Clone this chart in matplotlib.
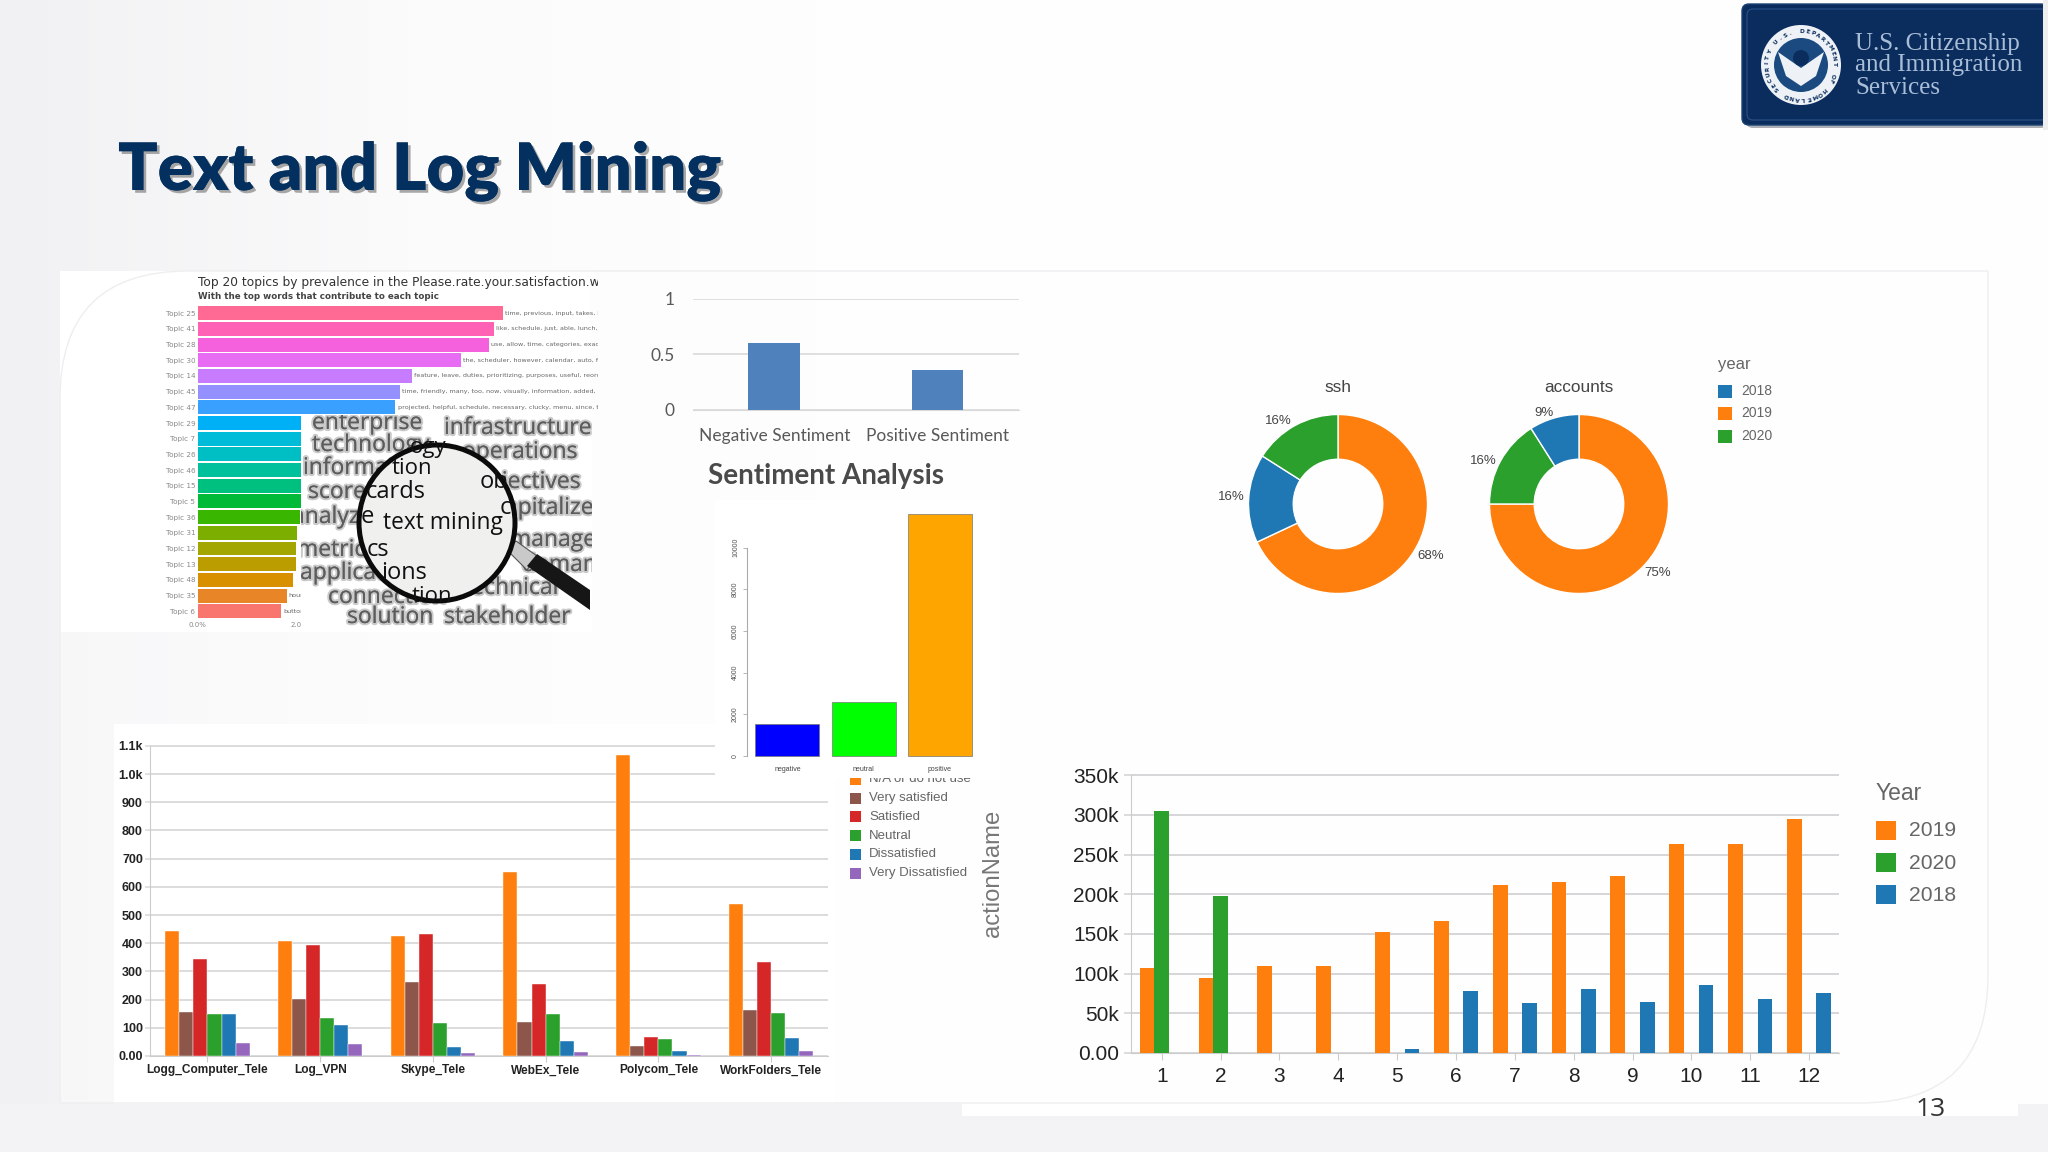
import math
import numpy as np
import matplotlib
matplotlib.use("Agg")
import matplotlib.pyplot as plt
import matplotlib.patheffects as pe
from matplotlib.colors import LinearSegmentedColormap
from matplotlib.patches import Rectangle, Circle, FancyBboxPatch, PathPatch, Polygon
from matplotlib.path import Path

W, H = 2048, 1152

# topic chart
topic_names = ["Topic 25", "Topic 41", "Topic 28", "Topic 30", "Topic 14", "Topic 45", "Topic 47", "Topic 29", "Topic 7", "Topic 26",
               "Topic 46", "Topic 15", "Topic 5", "Topic 36", "Topic 31", "Topic 12", "Topic 13", "Topic 48", "Topic 35", "Topic 6"]
topic_values = [6.0, 5.83, 5.72, 5.18, 4.21, 3.98, 3.89, 3.4, 3.0, 2.7, 2.5, 2.3, 2.1, 2.01, 1.96, 1.93, 1.93, 1.87, 1.75, 1.65]
topic_colors = ["#ff6a94", "#ff61b5", "#f561dd", "#e76bf3", "#c77cff", "#9590ff", "#39a0ff", "#00b0f6", "#00bcd8", "#00bfc4",
                "#00c19c", "#00c080", "#00ba38", "#39b600", "#7cae00", "#a3a500", "#bb9d00", "#d89000", "#e88526", "#f8766d"]
topic_words = ["time, previous, input, takes, long, system", "like, schedule, just, able, lunch, break", "use, allow, time, categories, exact, hours",
               "the, scheduler, however, calendar, auto, fill", "feature, leave, duties, prioritizing, purposes, useful, reorder",
               "time, friendly, many, too, now, visually, information, added, more", "projected, helpful, schedule, necessary, clucky, menu, since, tool",
               "", "", "", "", "", "", "", "", "", "", "", "hours", "button"]

# sentiment charts
sent_names = ["Negative Sentiment", "Positive Sentiment"]
sent_values = [0.60, 0.36]
count_names = ["negative", "neutral", "positive"]
count_values = [1520, 2592, 11616]
count_colors = ["#0000ff", "#00ff00", "#ffa500"]

# donuts
donut_years = ["2018", "2019", "2020"]
ssh_labels = ["2019", "2018", "2020"]
ssh_values = [68, 16, 16]
accounts_labels = ["2019", "2020", "2018"]
accounts_values = [75, 16, 9]
year_colors = {"2018": "#1f77b4", "2019": "#ff7f0e", "2020": "#2ca02c"}

# satisfaction chart
app_names = ["Logg_Computer_Tele", "Log_VPN", "Skype_Tele", "WebEx_Tele", "Polycom_Tele", "WorkFolders_Tele"]
rating_names = ["N/A or do not use", "Very satisfied", "Satisfied", "Neutral", "Dissatisfied", "Very Dissatisfied"]
rating_colors = ["#ff7f0e", "#8c564b", "#d62728", "#2ca02c", "#1f77b4", "#9467bd"]
na_use = [445, 409, 427, 654, 1068, 538]
very_satisfied = [156, 203, 261, 122, 34, 164]
satisfied = [345, 394, 434, 255, 69, 332]
neutral = [150, 136, 116, 150, 60, 151]
dissatisfied = [148, 109, 32, 54, 17, 63]
very_dissatisfied = [45, 41, 11, 15, 4, 19]
rating_ticks = [0, 100, 200, 300, 400, 500, 600, 700, 800, 900, 1000, 1100]
rating_ticklabels = ["0.00", "100", "200", "300", "400", "500", "600", "700", "800", "900", "1.0k", "1.1k"]

# monthly chart
months = [1, 2, 3, 4, 5, 6, 7, 8, 9, 10, 11, 12]
y2019 = [107, 94, 110, 109, 153, 166, 212, 215, 223, 263, 263, 295]
y2020 = [305, 198, 0, 0, 0, 0, 0, 0, 0, 0, 0, 0]
y2018 = [0, 0, 0, 0, 5.5, 78, 63, 80, 64, 86, 68, 76]
month_ticks = [0, 50, 100, 150, 200, 250, 300, 350]
month_ticklabels = ["0.00", "50k", "100k", "150k", "200k", "250k", "300k", "350k"]


def box(x0, y0, x1, y1, **kw):
    # axes from pixel box, y measured from the top
    return fig.add_axes([x0 / W, 1 - y1 / H, (x1 - x0) / W, (y1 - y0) / H], **kw)


def overlay(z):
    a = box(0, 0, W, H)
    a.set_xlim(0, W)
    a.set_ylim(H, 0)
    a.axis("off")
    a.patch.set_alpha(0)
    a.set_zorder(z)
    return a


fig = plt.figure(figsize=(W / 100, H / 100), dpi=100, facecolor="#f3f3f5")

# slide background
bg = overlay(0)
grad = np.linspace(0, 1, 256).reshape(1, -1)
bg.imshow(grad, extent=[0, W, 1104, 0], cmap=LinearSegmentedColormap.from_list("g", ["#f1f1f3", "#fbfbfc", "#fefefe", "#fefefe", "#fefefe", "#fefefe"]),
          aspect="auto", zorder=0)
bg.set_xlim(0, W)
bg.set_ylim(H, 0)
x0, y0, x1, y1, r = 60, 271, 1988, 1103, 128
verts = [(x0 + r, y0), (x1, y0), (x1, y1 - r), (x1, y1), (x1 - r, y1), (x0, y1), (x0, y0 + r), (x0, y0), (x0 + r, y0), (x0 + r, y0)]
codes = [Path.MOVETO, Path.LINETO, Path.LINETO, Path.CURVE3, Path.CURVE3, Path.LINETO, Path.LINETO, Path.CURVE3, Path.CURVE3, Path.CLOSEPOLY]
bg.add_patch(PathPatch(Path(verts, codes), fc="white", alpha=0.45, ec="none", zorder=1))
bg.add_patch(Rectangle((60, 271), 530, 361, fc="white", ec="none", zorder=1.1))
bg.add_patch(Rectangle((114, 724), 720, 380, fc="white", ec="none", zorder=1.1))
bg.add_patch(Rectangle((962, 1100), 1056, 16, fc="white", ec="none", zorder=1.1))
bg.add_patch(PathPatch(Path(verts, codes), fc="none", ec="#eeeef0", lw=1, zorder=1.2))

bg.text(118, 190, "Text and Log Mining", fontsize=47, fontweight="heavy", family="Lato", color="#04305f", va="baseline", ha="left",
        path_effects=[pe.withSimplePatchShadow(offset=(2, -2), shadow_rgbFace="#555555", alpha=0.5), pe.Normal()], zorder=3)
bg.text(1931, 1110, "13", fontsize=19, family="Open Sans", color="#333333", ha="center", va="center", zorder=3)
bg.text(708, 476, "Sentiment Analysis", fontsize=20, fontweight="bold", family="Lato", color="#4a4a4a", va="center", ha="left", zorder=3)

# logo
bg.add_patch(FancyBboxPatch((1746, 8), 302, 120, boxstyle="round,pad=0,rounding_size=7", fc="#8a8f96", ec="none", zorder=2, alpha=0.7))
bg.add_patch(FancyBboxPatch((1742, 4), 306, 121, boxstyle="round,pad=0,rounding_size=7", fc="#0b2d5e", ec="#1c4274", lw=1, zorder=2.1))
bg.add_patch(FancyBboxPatch((1747, 9), 300, 111, boxstyle="round,pad=0,rounding_size=6", fc="none", ec="#2a5288", lw=0.8, zorder=2.15))
bg.add_patch(Rectangle((2043, 0), 5, 130, fc="#eeeeee", ec="none", zorder=2.2))
bg.add_patch(Circle((1801, 65), 40, fc="#eef2f7", ec="none", zorder=3))
bg.add_patch(Circle((1801, 65), 27, fc="#1a4a80", ec="none", zorder=3.1))
bg.add_patch(Polygon([(1778, 52), (1801, 68), (1824, 52), (1816, 76), (1801, 86), (1786, 76)], fc="#eef2f7", ec="none", zorder=3.2))
bg.add_patch(Circle((1801, 58), 8, fc="#0b2d5e", ec="none", zorder=3.3))
seal = "U.S. DEPARTMENT OF HOMELAND SECURITY "
for i, ch in enumerate(seal):
    a = 2 * math.pi * i / len(seal) - 2.4
    bg.text(1801 + 33.5 * math.cos(a), 65 + 33.5 * math.sin(a), ch, fontsize=4.2, fontweight="bold", color="#0b2d5e", ha="center", va="center",
            rotation=-math.degrees(a) - 90, rotation_mode="anchor", zorder=3.4)
for line, yy in zip(["U.S. Citizenship", "and Immigration", "Services"], [44, 65, 88]):
    bg.text(1855, yy, line, fontsize=18, family="Liberation Serif", color="#a9bdd6", va="center", ha="left", zorder=3)

# topic chart, right part is covered by the word cloud
ax = box(197.5, 275, 597.5, 620)
ax.set_zorder(2)
ax.patch.set_alpha(0)
ypos = np.arange(len(topic_names))
ax.barh(ypos, topic_values, height=0.89, color=topic_colors)
ax.set_xlim(0, 7.86)
ax.set_ylim(19.56, -2.44)
ax.set_yticks(ypos)
ax.set_yticklabels(topic_names, fontsize=5.2, color="#888888")
ax.set_xticks([0, 2])
ax.set_xticklabels(["0.0%", "2.0%"], fontsize=5, color="#888888")
ax.tick_params(length=0, pad=1.5)
for s in ax.spines.values():
    s.set_visible(False)
for yi, v, w in zip(ypos, topic_values, topic_words):
    if w:
        ax.text(v + 0.04, yi, w, fontsize=4.6, color="#666666", va="center", clip_on=True)
ax.text(0, -1.93, "Top 20 topics by prevalence in the Please.rate.your.satisfaction.with.the.tool", fontsize=8.8, color="#333333", va="center", clip_on=True)
ax.text(0, -1.07, "With the top words that contribute to each topic", fontsize=6.3, fontweight="bold", color="#444444", va="center", clip_on=True)

# word cloud picture on top of the chart
fg = overlay(3)
fg.add_patch(Rectangle((301, 415), 291, 217, fc="white", ec="none", zorder=1))
frame = Rectangle((301, 415), 291, 212, transform=fg.transData)
cloud = [("enterprise", 312, 423), ("infrastructure", 444, 428), ("technology", 312, 445), ("operations", 462, 452), ("information", 303, 468),
         ("objectives", 474, 482), ("scorecards", 308, 492), ("capitalize", 494, 508), ("analyze", 292, 517), ("manage", 510, 540),
         ("metrics", 297, 550), ("demand", 522, 565), ("application", 300, 573), ("technical", 463, 588), ("connection", 328, 597),
         ("solution", 347, 617), ("stakeholder", 444, 617)]
for word, wx, wy in cloud:
    t = fg.text(wx, wy, word, fontsize=16.5, family="Open Sans", color="#5c5c5c", va="center", ha="left", alpha=0.9, zorder=2, clip_on=True,
                path_effects=[pe.withStroke(linewidth=3, foreground="#a8a8a8", alpha=0.6), pe.Normal()])
    t.set_clip_path(frame)
# magnifier handle
fg.add_patch(Polygon([(506, 549), (516, 541), (537, 556), (527, 570)], fc="#c9c9c9", ec="#555555", lw=0.8, zorder=3))
fg.add_patch(Polygon([(527, 566), (537, 554), (590, 590), (590, 610)], fc="#161616", ec="none", zorder=3))
lens = Circle((437, 523), 78, fc="#f0f1ef", ec="#0b0b0b", lw=3.6, zorder=4)
fg.add_patch(lens)
lens_clip = Circle((437, 523), 77, transform=fg.transData)
lens_words = [("tion", 392, 468, 16), ("ogy", 410, 447, 16), ("cards", 366, 492, 17), ("text mining", 383, 523, 16.4), ("ob", 480, 482, 17),
              ("e", 361, 517, 17), ("cs", 367, 550, 17), ("ions", 381, 573, 17), ("tion", 412, 597, 16), ("c", 500, 508, 17)]
for word, wx, wy, fs in lens_words:
    t = fg.text(wx, wy, word, fontsize=fs, family="Open Sans", color="#111111", va="center", ha="left", zorder=5, clip_on=True)
    t.set_clip_path(lens_clip)

# satisfaction chart
ax = box(150, 740, 828, 1056)
ax.set_zorder(1)
ax.patch.set_alpha(0)
rating_series = [na_use, very_satisfied, satisfied, neutral, dissatisfied, very_dissatisfied]
gpos = np.arange(len(app_names))
for i, (vals, c) in enumerate(zip(rating_series, rating_colors)):
    ax.bar(gpos + (i - 2.5) * 0.125, vals, width=0.125, color=c, zorder=3, edgecolor="white", linewidth=0.3)
ax.set_xlim(-0.51, 5.505)
ax.set_ylim(0, 1121)
ax.set_yticks(rating_ticks)
ax.set_yticklabels(rating_ticklabels, fontsize=9, fontweight="bold", color="#222222", family="Liberation Sans")
ax.set_xticks(gpos)
ax.set_xticklabels(app_names, fontsize=8.6, fontweight="bold", color="#222222", family="Liberation Sans")
ax.grid(axis="y", color="#dcdcdc", lw=1.4, zorder=0)
ax.tick_params(axis="y", length=3.6, color="#dcdcdc", width=1.2, pad=1.5)
ax.tick_params(axis="x", length=4, color="#cccccc", pad=2)
for s in ["top", "right"]:
    ax.spines[s].set_visible(False)
ax.spines["left"].set_color("#cccccc")
ax.spines["left"].set_bounds(0, 1100)
ax.spines["bottom"].set_color("#cccccc")

# legend of the satisfaction chart, first row sits partly under the next picture
mid = overlay(1.5)
for name, c, yy in zip(rating_names, rating_colors, [779, 798, 816.7, 835.7, 854.3, 873.3]):
    mid.add_patch(Rectangle((850, yy - 5.5), 11, 11, fc=c, ec="none"))
    mid.text(869, yy, name, fontsize=9.5, family="Liberation Sans", color="#666666", va="center", ha="left")
mid.text(993, 873, "actionName", fontsize=17.2, family="Liberation Sans", color="#777777", rotation=90, va="center", ha="center")

# sentiment counts, white picture over the chart behind it
ax = box(715, 500, 1000, 778)
ax.set_zorder(2)
ax.set_facecolor("white")
ax.bar(range(3), count_values, width=0.838, color=count_colors, edgecolor="#777777", linewidth=0.5)
ax.set_xlim(-0.948, 2.787)
ax.set_ylim(-1056, 12290)
ax.spines["left"].set_position(("data", -0.524))
ax.spines["left"].set_bounds(0, 10000)
ax.spines["left"].set_color("#aaaaaa")
for s in ["top", "right", "bottom"]:
    ax.spines[s].set_visible(False)
ax.set_xticks([])
ax.set_yticks([0, 2000, 4000, 6000, 8000, 10000])
ax.set_yticklabels(["0", "2000", "4000", "6000", "8000", "10000"], fontsize=5, rotation=90, va="center", color="#555555", family="Liberation Sans")
ax.tick_params(axis="y", length=3, width=0.6, color="#aaaaaa", pad=3)
for i, name in enumerate(count_names):
    ax.text(i, -624, name, fontsize=5, color="#444444", ha="center", va="center", family="Liberation Sans")

# sentiment score
ax = box(692.7, 298.7, 1019, 410)
ax.bar([0, 1], sent_values, width=0.317, color="#4f81bd", zorder=3)
ax.set_xlim(-0.5, 1.5)
ax.set_ylim(0, 1)
ax.patch.set_alpha(0)
ax.set_yticks([0, 0.5, 1])
ax.set_yticklabels(["0", "0.5", "1"], fontsize=12.5, color="#595959", family="Lato")
ax.set_xticks([0, 1])
ax.set_xticklabels(sent_names, fontsize=12.5, color="#595959", family="Lato")
ax.grid(axis="y", color="#d9d9d9", lw=1.2, zorder=0)
ax.tick_params(length=0)
ax.tick_params(axis="x", pad=13)
ax.tick_params(axis="y", pad=13)
for s in ax.spines.values():
    s.set_visible(False)
ax.spines["bottom"].set_visible(True)
ax.spines["bottom"].set_color("#d9d9d9")


def donut(cx, name, labels, values, nudges):
    R = 89.5
    a = box(cx - 1.4 * R, 504 - 1.4 * R, cx + 1.4 * R, 504 + 1.4 * R)
    texts = ["%d%%" % v for v in values]
    _, label_texts = a.pie(values, labels=texts, colors=[year_colors[l] for l in labels], startangle=90, counterclock=False, labeldistance=1.17,
                           wedgeprops=dict(width=0.5, edgecolor="white", linewidth=1),
                           textprops=dict(fontsize=9.5, color="#444444", ha="center", va="center", family="Liberation Sans"))
    for t, (dx, dy) in zip(label_texts, nudges):
        px, py = t.get_position()
        t.set_position((px + dx / R, py - dy / R))
    a.set_xlim(-1.4, 1.4)
    a.set_ylim(-1.4, 1.4)
    bg.text(cx, 387, name, fontsize=12.4, color="#444444", ha="center", va="center", family="Liberation Sans", zorder=3)


donut(1338, "ssh", ssh_labels, ssh_values, [(4, -4), (-2, 0), (-9, 9)])
donut(1579, "accounts", accounts_labels, accounts_values, [(5, -5), (-4, 7), (-6, 10)])
bg.text(1718, 364, "year", fontsize=12, color="#666666", va="center", family="Liberation Sans", zorder=3)
for name, yy in zip(donut_years, [391, 413.3, 436]):
    bg.add_patch(Rectangle((1718, yy - 6.5), 13.5, 13, fc=year_colors[name], ec="none", zorder=3))
    bg.text(1741.7, yy, name, fontsize=10, color="#666666", va="center", family="Liberation Sans", zorder=3)

# monthly volume
ax = box(1131.2, 770, 1838.5, 1053)
ax.patch.set_alpha(0)
mpos = np.array(months)
ax.bar(mpos - 0.25, y2019, width=0.25, color="#ff7f0e", zorder=3)
ax.bar(mpos, y2020, width=0.25, color="#2ca02c", zorder=3)
ax.bar(mpos + 0.25, y2018, width=0.25, color="#1f77b4", zorder=3)
ax.set_xlim(0.48, 12.5)
ax.set_ylim(0, 356.5)
ax.set_yticks(month_ticks)
ax.set_yticklabels(month_ticklabels, fontsize=15, color="#222222", family="Liberation Sans")
ax.set_xticks(months)
ax.set_xticklabels(months, fontsize=15, color="#222222", family="Liberation Sans")
ax.grid(axis="y", color="#d6d6d8", lw=1.4, zorder=0)
ax.tick_params(axis="y", length=5, color="#d6d6d8", width=1.2, pad=4)
ax.tick_params(axis="x", length=5, color="#cccccc", pad=5)
for s in ["top", "right"]:
    ax.spines[s].set_visible(False)
ax.spines["left"].set_color("#cccccc")
ax.spines["left"].set_bounds(0, 350)
ax.spines["bottom"].set_color("#cccccc")
bg.text(1876, 793, "Year", fontsize=16.5, color="#666666", va="center", family="Liberation Sans", zorder=3)
for name, c, yy in zip(["2019", "2020", "2018"], ["#ff7f0e", "#2ca02c", "#1f77b4"], [830, 862.7, 894.7]):
    bg.add_patch(Rectangle((1876, yy - 9.5), 20, 19, fc=c, ec="none", zorder=3))
    bg.text(1909, yy + 1, name, fontsize=15.2, color="#666666", va="center", family="Liberation Sans", zorder=3)

fig.savefig("out.png", dpi=100)
